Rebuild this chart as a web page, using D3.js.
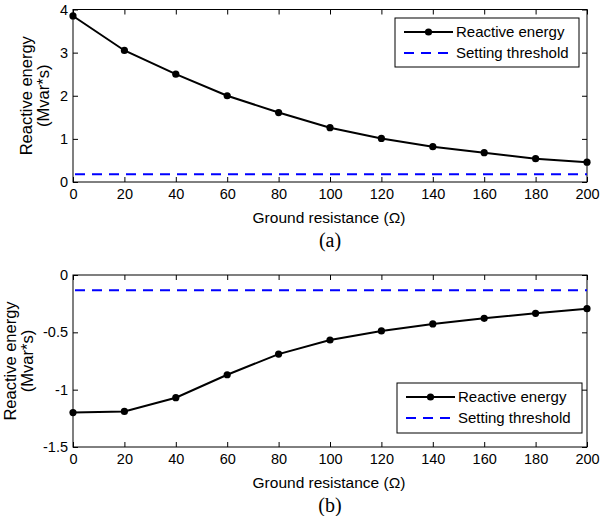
<!DOCTYPE html>
<html>
<head>
<meta charset="utf-8">
<script src="https://cdn.jsdelivr.net/npm/d3@7"></script>
<style>
  body { margin: 0; background: #fff; }
  svg text { font-family: "Liberation Sans", Arial, sans-serif; fill: #000; }
</style>
</head>
<body>
<div id="chart"></div>
<script>
// ground resistance (ohm)
const resistance = [0, 20, 40, 60, 80, 100, 120, 140, 160, 180, 200];
// panel (a) reactive energy, Mvar*s
const energyA = [3.85, 3.05, 2.50, 2.00, 1.61, 1.26, 1.01, 0.82, 0.68, 0.54, 0.46];
const thresholdA = 0.18;
// panel (b) reactive energy, Mvar*s
const energyB = [-1.20, -1.19, -1.07, -0.87, -0.69, -0.567, -0.488, -0.427, -0.378, -0.334, -0.294];
const thresholdB = -0.134;

const xTicks = [0, 20, 40, 60, 80, 100, 120, 140, 160, 180, 200];
const yTicksA = [0, 1, 2, 3, 4];
const yTicksB = [0, -0.5, -1, -1.5];
const legendLabels = ['Reactive energy', 'Setting threshold'];

const width = 611, height = 516;

const svg = d3.select('#chart')
  .append('svg')
  .attr('width', width)
  .attr('height', height)
  .attr('viewBox', [0, 0, width, height]);

const x = d3.scaleLinear().domain([0, 200]).range([73, 587]);
const fmt = (d) => String(d); // keep hyphen minus like MATLAB

function drawPanel(cfg) {
  const y = d3.scaleLinear().domain(cfg.yDomain).range([cfg.bottom, cfg.top]);
  const g = svg.append('g');

  // box
  g.append('rect')
    .attr('x', x.range()[0]).attr('y', cfg.top)
    .attr('width', x.range()[1] - x.range()[0])
    .attr('height', cfg.bottom - cfg.top)
    .attr('fill', 'none').attr('stroke', '#000').attr('stroke-width', 1);

  const axisStyle = (sel) => {
    sel.select('.domain').remove();
    sel.selectAll('.tick line').attr('stroke', '#000');
    sel.selectAll('.tick text').style('font-size', '14.5px');
  };

  // ticks pointing inward on all four sides
  g.append('g')
    .attr('transform', `translate(0,${cfg.bottom})`)
    .call(d3.axisBottom(x).tickValues(xTicks).tickFormat(fmt).tickSize(-5).tickPadding(7))
    .call(axisStyle);
  g.append('g')
    .attr('transform', `translate(0,${cfg.top})`)
    .call(d3.axisTop(x).tickValues(xTicks).tickFormat('').tickSize(-5))
    .call(axisStyle);
  g.append('g')
    .attr('transform', `translate(${x.range()[0]},0)`)
    .call(d3.axisLeft(y).tickValues(cfg.yTicks).tickFormat(fmt).tickSize(-5).tickPadding(5))
    .call(axisStyle);
  g.append('g')
    .attr('transform', `translate(${x.range()[1]},0)`)
    .call(d3.axisRight(y).tickValues(cfg.yTicks).tickFormat('').tickSize(-5))
    .call(axisStyle);

  // threshold
  g.append('line')
    .attr('x1', x(0) + 2).attr('x2', x(200))
    .attr('y1', y(cfg.threshold)).attr('y2', y(cfg.threshold))
    .attr('stroke', '#0000ff').attr('stroke-width', 2)
    .attr('stroke-dasharray', '10,7');

  // energy curve
  const line = d3.line().x((d, i) => x(resistance[i])).y((d) => y(d));
  g.append('path')
    .datum(cfg.values)
    .attr('d', line)
    .attr('fill', 'none').attr('stroke', '#000').attr('stroke-width', 2);
  g.append('g')
    .selectAll('circle')
    .data(cfg.values)
    .join('circle')
    .attr('cx', (d, i) => x(resistance[i]))
    .attr('cy', (d) => y(d))
    .attr('r', 3.6)
    .attr('fill', '#000');

  // y label (two lines)
  const midY = (cfg.top + cfg.bottom) / 2;
  [['Reactive energy', cfg.ylabX[0]], ['(Mvar*s)', cfg.ylabX[1]]].forEach(([t, lx]) => {
    g.append('text')
      .attr('transform', `translate(${lx},${midY}) rotate(-90)`)
      .attr('text-anchor', 'middle')
      .attr('dy', '0.35em')
      .style('font-size', '16.5px')
      .text(t);
  });

  // x label
  g.append('text')
    .attr('x', 329).attr('y', cfg.bottom + 36)
    .attr('text-anchor', 'middle').attr('dy', '0.35em')
    .style('font-size', '15.5px')
    .text('Ground resistance (\u03A9)');

  // panel caption
  g.append('text')
    .attr('x', 330).attr('y', cfg.bottom + 58)
    .attr('text-anchor', 'middle').attr('dy', '0.35em')
    .style('font-family', '"Liberation Serif", "Times New Roman", serif')
    .style('font-size', '20px')
    .text(cfg.caption);

  // legend
  const L = cfg.legend;
  const lg = g.append('g');
  lg.append('rect')
    .attr('x', L.x).attr('y', L.y).attr('width', L.w).attr('height', L.h)
    .attr('fill', '#fff').attr('stroke', '#000').attr('stroke-width', 1);
  const row1 = L.y + 14, row2 = L.y + 35;
  const s0 = L.x + 9, s1 = L.x + 58;
  lg.append('line')
    .attr('x1', s0).attr('x2', s1).attr('y1', row1).attr('y2', row1)
    .attr('stroke', '#000').attr('stroke-width', 2);
  lg.append('circle')
    .attr('cx', (s0 + s1) / 2).attr('cy', row1).attr('r', 3.6).attr('fill', '#000');
  lg.append('line')
    .attr('x1', s0).attr('x2', s1).attr('y1', row2).attr('y2', row2)
    .attr('stroke', '#0000ff').attr('stroke-width', 2)
    .attr('stroke-dasharray', '10,7');
  [row1, row2].forEach((ry, i) => {
    lg.append('text')
      .attr('x', s1 + 3).attr('y', ry)
      .attr('dy', '0.35em')
      .style('font-size', '15px')
      .text(legendLabels[i]);
  });
}

drawPanel({
  values: energyA, threshold: thresholdA,
  yDomain: [0, 4], yTicks: yTicksA,
  top: 9.5, bottom: 182,
  ylabX: [26, 43],
  caption: '(a)',
  legend: { x: 395, y: 18, w: 184, h: 49 }
});

drawPanel({
  values: energyB, threshold: thresholdB,
  yDomain: [-1.5, 0], yTicks: yTicksB,
  top: 275, bottom: 447,
  ylabX: [10, 27],
  caption: '(b)',
  legend: { x: 397, y: 383, w: 185, h: 50 }
});
</script>
</body>
</html>
